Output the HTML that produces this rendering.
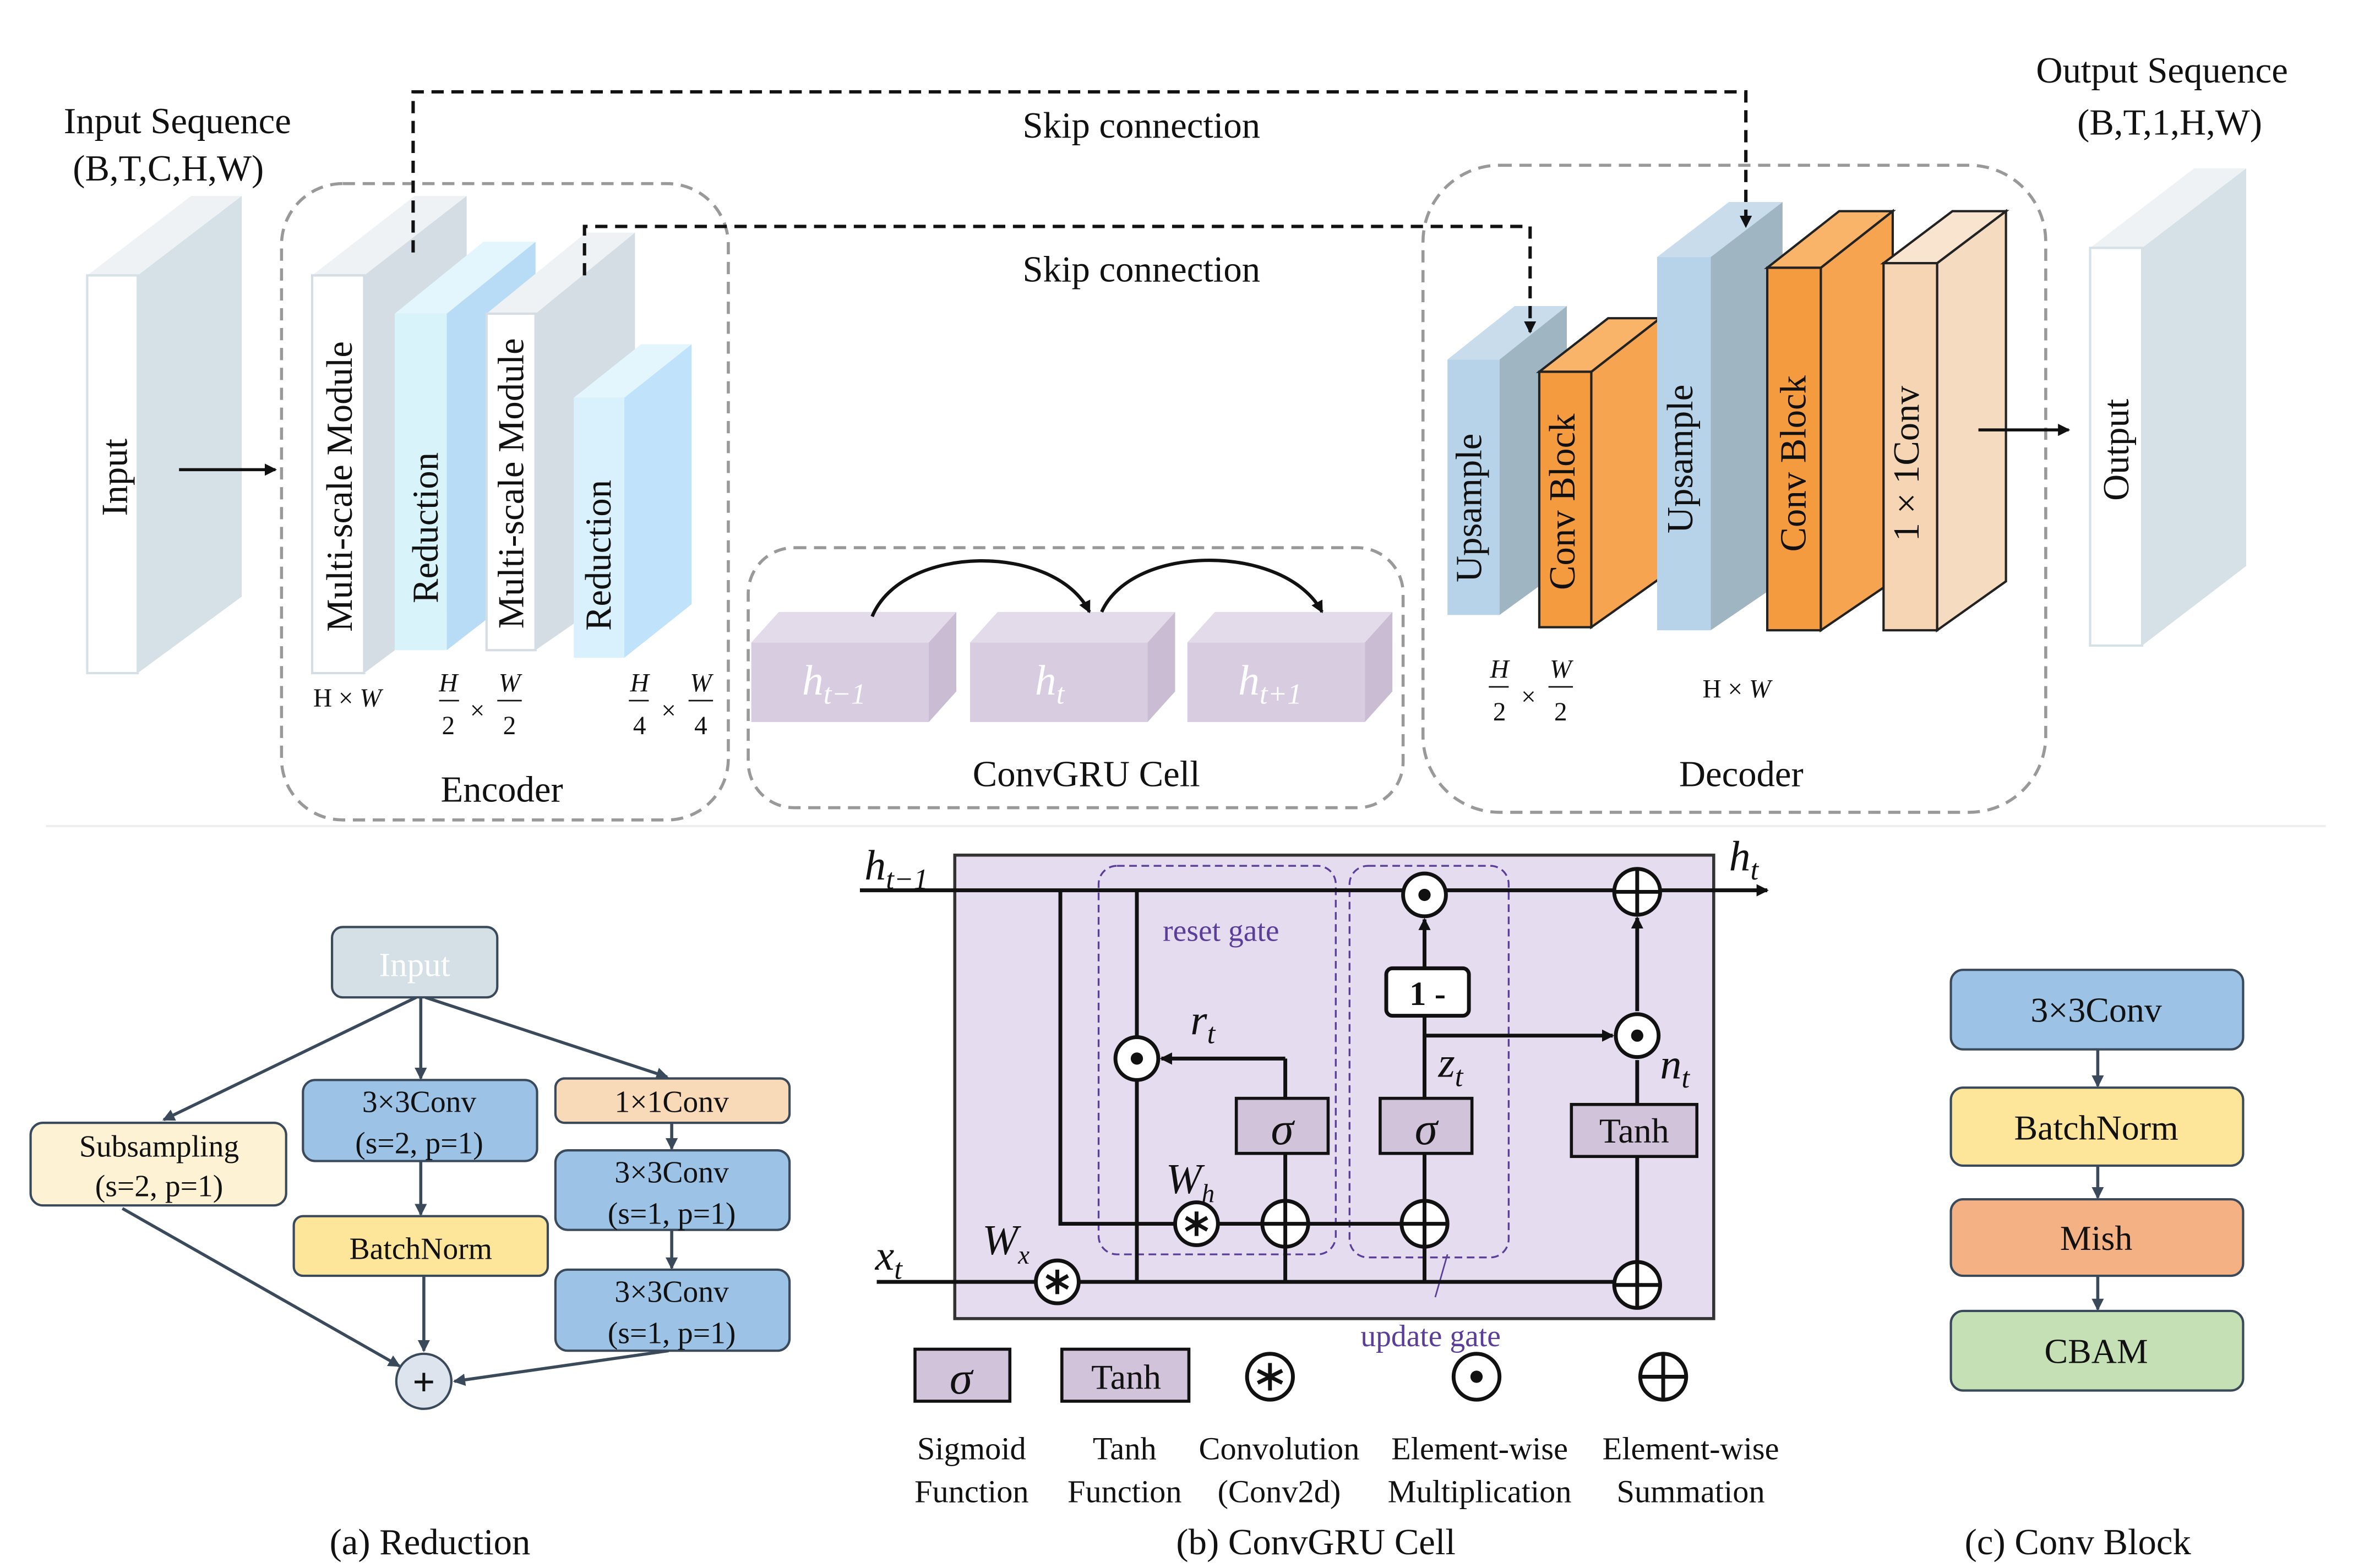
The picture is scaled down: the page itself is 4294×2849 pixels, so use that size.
<!DOCTYPE html>
<html><head><meta charset="utf-8"><style>
html,body{margin:0;padding:0;background:#fff;}
svg{display:block;}
text{font-family:"Liberation Serif",serif;fill:#111;}
</style></head><body>
<svg width="4294" height="2849" viewBox="0 0 1545 1025" xmlns="http://www.w3.org/2000/svg">
<defs>
<marker id="ar" markerWidth="8" markerHeight="8" refX="7" refY="4" orient="auto" markerUnits="userSpaceOnUse"><path d="M0,0 L8,4 L0,8 Z" fill="#111"/></marker>
<marker id="ag" markerWidth="8" markerHeight="8" refX="7" refY="4" orient="auto" markerUnits="userSpaceOnUse"><path d="M0,0 L8,4 L0,8 Z" fill="#3a4a5a"/></marker>
</defs>

<text x="116" y="87" font-size="24" text-anchor="middle">Input Sequence</text>
<text x="110" y="118" font-size="24" text-anchor="middle">(B,T,C,H,W)</text>
<text x="1413" y="54" font-size="24" text-anchor="middle">Output Sequence</text>
<text x="1418" y="88" font-size="24" text-anchor="middle">(B,T,1,H,W)</text>

<rect x="184" y="120" width="292" height="416" rx="40" fill="none" stroke="#999" stroke-width="2" stroke-dasharray="8,5"/>
<rect x="489" y="358" width="428" height="170" rx="30" fill="none" stroke="#999" stroke-width="2" stroke-dasharray="8,5"/>
<rect x="930" y="108" width="407" height="423" rx="50" fill="none" stroke="#999" stroke-width="2" stroke-dasharray="8,5"/>
<text x="328" y="524" font-size="24" text-anchor="middle">Encoder</text>
<text x="710" y="514" font-size="24" text-anchor="middle">ConvGRU Cell</text>
<text x="1138" y="514" font-size="24" text-anchor="middle">Decoder</text>

<polygon points="90,180 158,128 158,390 90,440" fill="#d6e0e7"/>
<polygon points="57,180 90,180 158,128 125,128" fill="#eef2f5"/>
<rect x="57" y="180" width="33" height="260" fill="#fff" stroke="#d6e0e7" stroke-width="1.5"/>
<text transform="translate(83,312) rotate(-90)" font-size="24" text-anchor="middle">Input</text>
<line x1="117" y1="307" x2="180" y2="307" stroke="#111" stroke-width="2" marker-end="url(#ar)"/>

<polygon points="238,180 305,128 305,390 238,440" fill="#d4dde3"/>
<polygon points="204,180 238,180 305,128 271,128" fill="#eef2f5"/>
<rect x="204" y="180" width="34" height="260" fill="#fff" stroke="#d4dde3" stroke-width="1.5"/>
<text transform="translate(230,318) rotate(-90)" font-size="24" text-anchor="middle">Multi-scale Module</text>

<polygon points="292,205 350,158 350,380 292,425" fill="#b8dcf6"/>
<polygon points="258,205 292,205 350,158 316,158" fill="#e3f5fd"/>
<rect x="258" y="205" width="34" height="220" fill="#d9f3fb"/>
<text transform="translate(286,345) rotate(-90)" font-size="24" text-anchor="middle">Reduction</text>

<polygon points="350,205 415,152 415,380 350,425" fill="#d4dde3"/>
<polygon points="318,205 350,205 415,152 383,152" fill="#eef2f5"/>
<rect x="318" y="205" width="32" height="220" fill="#fff" stroke="#d4dde3" stroke-width="1.5"/>
<text transform="translate(342,316) rotate(-90)" font-size="24" text-anchor="middle">Multi-scale Module</text>

<polygon points="408,260 452,225 452,395 408,430" fill="#c0e3fb"/>
<polygon points="375,260 408,260 452,225 419,225" fill="#e3f5fd"/>
<rect x="375" y="260" width="33" height="170" fill="#d9f1fc"/>
<text transform="translate(399,363) rotate(-90)" font-size="24" text-anchor="middle">Reduction</text>

<text x="227" y="462" font-size="17" text-anchor="middle" font-family="Liberation Sans">H × <tspan font-style="italic">W</tspan></text>
<g font-size="17" font-style="italic">
<text x="293" y="452" text-anchor="middle">H</text><line x1="287" y1="458" x2="300" y2="458" stroke="#111"/><text x="293" y="480" text-anchor="middle" font-style="normal">2</text>
<text x="312" y="470" text-anchor="middle" font-style="normal">×</text>
<text x="333" y="452" text-anchor="middle">W</text><line x1="325" y1="458" x2="341" y2="458" stroke="#111"/><text x="333" y="480" text-anchor="middle" font-style="normal">2</text>
<text x="418" y="452" text-anchor="middle">H</text><line x1="411" y1="458" x2="424" y2="458" stroke="#111"/><text x="418" y="480" text-anchor="middle" font-style="normal">4</text>
<text x="437" y="470" text-anchor="middle" font-style="normal">×</text>
<text x="458" y="452" text-anchor="middle">W</text><line x1="450" y1="458" x2="466" y2="458" stroke="#111"/><text x="458" y="480" text-anchor="middle" font-style="normal">4</text>
<text x="980" y="443" text-anchor="middle">H</text><line x1="973" y1="449" x2="986" y2="449" stroke="#111"/><text x="980" y="471" text-anchor="middle" font-style="normal">2</text>
<text x="999" y="461" text-anchor="middle" font-style="normal">×</text>
<text x="1020" y="443" text-anchor="middle">W</text><line x1="1012" y1="449" x2="1028" y2="449" stroke="#111"/><text x="1020" y="471" text-anchor="middle" font-style="normal">2</text>
</g>
<text x="1135" y="456" font-size="17" text-anchor="middle" font-family="Liberation Sans">H × <tspan font-style="italic">W</tspan></text>

<text x="746" y="90" font-size="24" text-anchor="middle">Skip connection</text>
<text x="746" y="184" font-size="24" text-anchor="middle">Skip connection</text>

<g>
<polygon points="607,420 625,400 625,452 607,472" fill="#c9bcd3"/>
<polygon points="491,420 509,400 625,400 607,420" fill="#e4dbea"/>
<rect x="491" y="420" width="116" height="52" fill="#d8cce0"/>
<text x="545" y="454" font-size="28" text-anchor="middle" font-style="italic" style="fill:#fff">h<tspan font-size="19" dy="6">t−1</tspan></text>
<polygon points="750,420 768,400 768,452 750,472" fill="#c9bcd3"/>
<polygon points="634,420 652,400 768,400 750,420" fill="#e4dbea"/>
<rect x="634" y="420" width="116" height="52" fill="#d8cce0"/>
<text x="686" y="454" font-size="28" text-anchor="middle" font-style="italic" style="fill:#fff">h<tspan font-size="19" dy="6">t</tspan></text>
<polygon points="892,420 910,400 910,452 892,472" fill="#c9bcd3"/>
<polygon points="776,420 794,400 910,400 892,420" fill="#e4dbea"/>
<rect x="776" y="420" width="116" height="52" fill="#d8cce0"/>
<text x="830" y="454" font-size="28" text-anchor="middle" font-style="italic" style="fill:#fff">h<tspan font-size="19" dy="6">t+1</tspan></text>
<path d="M570,403 C590,355 690,355 712,400" fill="none" stroke="#111" stroke-width="2.2" marker-end="url(#ar)"/>
<path d="M720,400 C740,355 840,355 864,400" fill="none" stroke="#111" stroke-width="2.2" marker-end="url(#ar)"/>
</g>

<polygon points="980,235 1024,200 1024,370 980,402" fill="#9fb6c2"/>
<polygon points="946,235 980,235 1024,200 990,200" fill="#c9dcec"/>
<rect x="946" y="235" width="34" height="167" fill="#b7d3ea"/>
<text transform="translate(968,332) rotate(-90)" font-size="24" text-anchor="middle">Upsample</text>
<polygon points="1040,243 1085,208 1085,378 1040,410" fill="#f7a450" stroke="#222" stroke-width="1.5"/>
<polygon points="1006,243 1040,243 1085,208 1051,208" fill="#f9b46a" stroke="#222" stroke-width="1.5"/>
<rect x="1006" y="243" width="34" height="167" fill="#f59b3f" stroke="#222" stroke-width="1.5"/>
<text transform="translate(1029,328) rotate(-90)" font-size="24" text-anchor="middle">Conv Block</text>

<polygon points="1118,168 1165,132 1165,380 1118,412" fill="#9fb6c2"/>
<polygon points="1083,168 1118,168 1165,132 1130,132" fill="#c9dcec"/>
<rect x="1083" y="168" width="35" height="244" fill="#b7d3ea"/>
<text transform="translate(1106,300) rotate(-90)" font-size="24" text-anchor="middle">Upsample</text>
<polygon points="1190,175 1237,138 1237,380 1190,412" fill="#f7a450" stroke="#222" stroke-width="1.5"/>
<polygon points="1155,175 1190,175 1237,138 1202,138" fill="#f9b46a" stroke="#222" stroke-width="1.5"/>
<rect x="1155" y="175" width="35" height="237" fill="#f59b3f" stroke="#222" stroke-width="1.5"/>
<text transform="translate(1180,303) rotate(-90)" font-size="24" text-anchor="middle">Conv Block</text>
<polygon points="1266,172 1311,138 1311,380 1266,412" fill="#f5dbc0" stroke="#222" stroke-width="1.5"/>
<polygon points="1231,172 1266,172 1311,138 1276,138" fill="#f8e4cf" stroke="#222" stroke-width="1.5"/>
<rect x="1231" y="172" width="35" height="240" fill="#f5d5b3" stroke="#222" stroke-width="1.5"/>
<text transform="translate(1254,303) rotate(-90)" font-size="24" text-anchor="middle">1 × 1Conv</text>
<line x1="1293" y1="281" x2="1352" y2="281" stroke="#111" stroke-width="2" marker-end="url(#ar)"/>

<polygon points="1400,162 1468,110 1468,370 1400,422" fill="#d6e0e7"/>
<polygon points="1366,162 1400,162 1468,110 1434,110" fill="#eef2f5"/>
<rect x="1366" y="162" width="34" height="260" fill="#fff" stroke="#d6e0e7" stroke-width="1.5"/>
<text transform="translate(1391,294) rotate(-90)" font-size="24" text-anchor="middle">Output</text>

<!-- skip connections (on top) -->
<path d="M270,165 V60 H1141 V148" fill="none" stroke="#111" stroke-width="2.2" stroke-dasharray="8,5" marker-end="url(#ar)"/>
<path d="M382,180 V148 H1000 V217" fill="none" stroke="#111" stroke-width="2.2" stroke-dasharray="8,5" marker-end="url(#ar)"/>

<line x1="30" y1="540" x2="1520" y2="540" stroke="#eee" stroke-width="1.5"/>

<g stroke="#3a4a5a" stroke-width="2" fill="none">
<line x1="272" y1="652" x2="107" y2="732" marker-end="url(#ag)"/>
<line x1="275" y1="652" x2="275" y2="705" marker-end="url(#ag)"/>
<line x1="278" y1="652" x2="436" y2="704" marker-end="url(#ag)"/>
<line x1="275" y1="759" x2="275" y2="794" marker-end="url(#ag)"/>
<line x1="439" y1="734" x2="439" y2="751" marker-end="url(#ag)"/>
<line x1="439" y1="804" x2="439" y2="829" marker-end="url(#ag)"/>
<line x1="80" y1="790" x2="261" y2="893" marker-end="url(#ag)"/>
<line x1="277" y1="834" x2="277" y2="883" marker-end="url(#ag)"/>
<line x1="437" y1="883" x2="297" y2="903" marker-end="url(#ag)"/>
</g>
<g stroke="#3a4a5a" stroke-width="1.5" font-size="20">
<rect x="217" y="606" width="108" height="46" rx="7" fill="#d5dfe6"/>
<rect x="20" y="734" width="167" height="54" rx="8" fill="#fdf3d4"/>
<rect x="198" y="706" width="153" height="53" rx="8" fill="#9cc3e6"/>
<rect x="192" y="795" width="166" height="39" rx="6" fill="#fde699"/>
<rect x="363" y="705" width="153" height="29" rx="6" fill="#f8d9b8"/>
<rect x="363" y="752" width="153" height="52" rx="8" fill="#9cc3e6"/>
<rect x="363" y="830" width="153" height="53" rx="8" fill="#9cc3e6"/>
<circle cx="277" cy="903" r="18" fill="#dde4ee"/>
</g>
<text x="271" y="638" font-size="22" text-anchor="middle" style="fill:#fff">Input</text>
<text x="104" y="756" font-size="20" text-anchor="middle">Subsampling</text>
<text x="104" y="782" font-size="20" text-anchor="middle">(s=2, p=1)</text>
<text x="274" y="727" font-size="20" text-anchor="middle">3×3Conv</text>
<text x="274" y="754" font-size="20" text-anchor="middle">(s=2, p=1)</text>
<text x="275" y="823" font-size="20" text-anchor="middle">BatchNorm</text>
<text x="439" y="727" font-size="20" text-anchor="middle">1×1Conv</text>
<text x="439" y="773" font-size="20" text-anchor="middle">3×3Conv</text>
<text x="439" y="800" font-size="20" text-anchor="middle">(s=1, p=1)</text>
<text x="439" y="851" font-size="20" text-anchor="middle">3×3Conv</text>
<text x="439" y="878" font-size="20" text-anchor="middle">(s=1, p=1)</text>
<text x="277" y="912" font-size="26" text-anchor="middle" font-family="Liberation Sans" font-weight="bold">+</text>
<text x="281" y="1016" font-size="24" text-anchor="middle">(a) Reduction</text>

<rect x="624" y="559" width="496" height="303" fill="#e6dcef" stroke="#333" stroke-width="2"/>
<rect x="718" y="566" width="155" height="254" rx="12" fill="none" stroke="#5a3e9a" stroke-width="1.2" stroke-dasharray="5,3"/>
<rect x="882" y="566" width="104" height="256" rx="12" fill="none" stroke="#5a3e9a" stroke-width="1.2" stroke-dasharray="5,3"/>
<line x1="938" y1="848" x2="946" y2="820" stroke="#5a3e9a" stroke-width="1"/>
<text x="798" y="615" font-size="20" text-anchor="middle" font-family="Liberation Sans" style="fill:#5a3e9a">reset gate</text>
<text x="935" y="880" font-size="20" text-anchor="middle" font-family="Liberation Sans" style="fill:#5a3e9a">update gate</text>
<g stroke="#111" stroke-width="2.5" fill="none">
<line x1="562" y1="582" x2="1155" y2="582" marker-end="url(#ar)"/>
<path d="M693,582 V800 H918"/>
<line x1="743" y1="582" x2="743" y2="838"/>
<line x1="840" y1="718" x2="840" y2="692"/>
<line x1="840" y1="692" x2="759" y2="692" marker-end="url(#ar)"/>
<line x1="840" y1="754" x2="840" y2="838"/>
<line x1="931" y1="838" x2="931" y2="754"/>
<line x1="931" y1="718" x2="931" y2="664"/>
<line x1="931" y1="633" x2="931" y2="601" marker-end="url(#ar)"/>
<line x1="931" y1="677" x2="1054" y2="677" marker-end="url(#ar)"/>
<line x1="1070" y1="838" x2="1070" y2="756"/>
<line x1="1070" y1="722" x2="1070" y2="693"/>
<line x1="1070" y1="661" x2="1070" y2="600" marker-end="url(#ar)"/>
<line x1="573" y1="838" x2="1070" y2="838"/>
</g>
<g stroke="#111" stroke-width="2">
<rect x="808" y="718" width="60" height="36" fill="#d0c3da"/>
<rect x="902" y="718" width="60" height="36" fill="#d0c3da"/>
<rect x="906" y="633" width="54" height="31" rx="4" fill="#fff" stroke-width="2.5"/>
<rect x="1027" y="722" width="82" height="34" fill="#d0c3da"/>
</g>
<text x="838" y="748" font-size="30" text-anchor="middle" font-style="italic">σ</text>
<text x="932" y="748" font-size="30" text-anchor="middle" font-style="italic">σ</text>
<text x="933" y="657" font-size="22" text-anchor="middle" font-weight="bold">1 -</text>
<text x="1068" y="747" font-size="23" text-anchor="middle">Tanh</text>

<g stroke="#111" stroke-width="2.5" fill="#fff">
<circle cx="743" cy="692" r="14"/><circle cx="931" cy="585" r="14"/><circle cx="1070" cy="677" r="14"/>
<circle cx="840" cy="800" r="15"/><circle cx="931" cy="800" r="15"/><circle cx="1070" cy="583" r="15"/><circle cx="1070" cy="840" r="15"/>
<circle cx="782" cy="800" r="14"/><circle cx="691" cy="838" r="14"/>
</g>
<g fill="#111">
<circle cx="743" cy="692" r="4"/><circle cx="931" cy="585" r="4"/><circle cx="1070" cy="677" r="4"/>
</g>
<g stroke="#111" stroke-width="2.5">
<path d="M825,800 H855 M840,785 V815"/><path d="M916,800 H946 M931,785 V815"/>
<path d="M1055,583 H1085 M1070,568 V598"/><path d="M1055,840 H1085 M1070,825 V855"/>
<path d="M782,792 V808 M775,796 L789,804 M775,804 L789,796"/>
<path d="M691,830 V846 M684,834 L698,842 M684,842 L698,834"/>
</g>
<g font-style="italic" font-size="28">
<text x="565" y="575">h<tspan font-size="19" dy="6">t−1</tspan></text>
<text x="1130" y="569">h<tspan font-size="19" dy="6">t</tspan></text>
<text x="778" y="676">r<tspan font-size="19" dy="6">t</tspan></text>
<text x="940" y="704">z<tspan font-size="19" dy="6">t</tspan></text>
<text x="1085" y="705">n<tspan font-size="19" dy="6">t</tspan></text>
<text x="762" y="780">W<tspan font-size="17" dy="6">h</tspan></text>
<text x="642" y="820">W<tspan font-size="17" dy="6">x</tspan></text>
<text x="572" y="830">x<tspan font-size="19" dy="6">t</tspan></text>
</g>

<rect x="598" y="882" width="62" height="34" fill="#d0c3da" stroke="#111" stroke-width="2"/>
<text x="628" y="911" font-size="30" text-anchor="middle" font-style="italic">σ</text>
<rect x="694" y="882" width="83" height="34" fill="#d0c3da" stroke="#111" stroke-width="2"/>
<text x="736" y="908" font-size="23" text-anchor="middle">Tanh</text>
<g stroke="#111" stroke-width="2.5" fill="#fff">
<circle cx="830" cy="900" r="15"/><circle cx="965" cy="900" r="15"/><circle cx="1087" cy="900" r="15"/>
</g>
<circle cx="965" cy="900" r="4" fill="#111"/>
<g stroke="#111" stroke-width="2.5">
<path d="M830,891 V909 M822,896 L838,904 M822,904 L838,896"/>
<path d="M1071,900 H1103 M1087,884 V916"/>
</g>
<g font-size="21" text-anchor="middle">
<text x="635" y="954">Sigmoid</text><text x="635" y="982">Function</text>
<text x="735" y="954">Tanh</text><text x="735" y="982">Function</text>
<text x="836" y="954">Convolution</text><text x="836" y="982">(Conv2d)</text>
<text x="967" y="954">Element-wise</text><text x="967" y="982">Multiplication</text>
<text x="1105" y="954">Element-wise</text><text x="1105" y="982">Summation</text>
</g>
<text x="860" y="1016" font-size="24" text-anchor="middle">(b) ConvGRU Cell</text>

<g stroke="#3a4a5a" stroke-width="2" fill="none">
<line x1="1371" y1="686" x2="1371" y2="710" marker-end="url(#ag)"/>
<line x1="1371" y1="762" x2="1371" y2="783" marker-end="url(#ag)"/>
<line x1="1371" y1="834" x2="1371" y2="856" marker-end="url(#ag)"/>
</g>
<g stroke="#3a4a5a" stroke-width="1.5">
<rect x="1275" y="634" width="191" height="52" rx="8" fill="#9cc3e6"/>
<rect x="1275" y="711" width="191" height="51" rx="8" fill="#fde699"/>
<rect x="1275" y="784" width="191" height="50" rx="8" fill="#f4b183"/>
<rect x="1275" y="857" width="191" height="52" rx="8" fill="#c5e0b4"/>
</g>
<g font-size="23" text-anchor="middle">
<text x="1370" y="668">3×3Conv</text>
<text x="1370" y="745">BatchNorm</text>
<text x="1370" y="817">Mish</text>
<text x="1370" y="891">CBAM</text>
</g>
<text x="1358" y="1016" font-size="24" text-anchor="middle">(c) Conv Block</text>
</svg>
</body></html>
